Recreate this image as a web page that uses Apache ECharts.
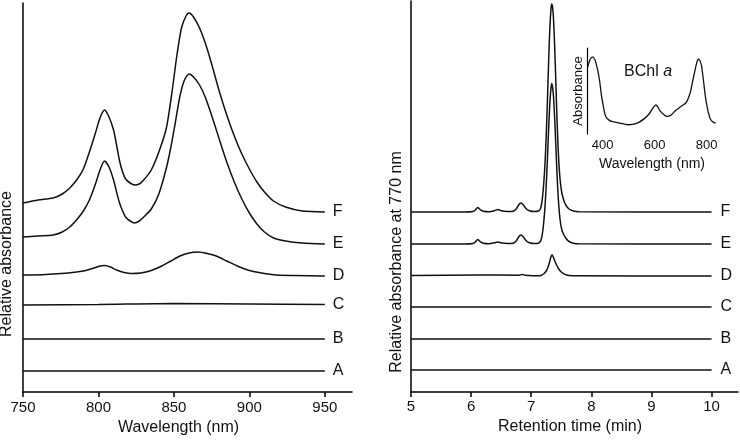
<!DOCTYPE html>
<html><head><meta charset="utf-8">
<script src="https://cdn.jsdelivr.net/npm/echarts@6/dist/echarts.min.js"></script>
<style>html,body{margin:0;padding:0;background:#fff}#c{width:740px;height:441px}</style>
</head><body><div id="c"></div>
<script>
// ---------- Data ----------
// Left panel: absorption spectra, [wavelength nm, relative absorbance (offset traces)]
const specNames = ['A','B','C','D','E','F'];
const wlTicks = [750,800,850,900,950];
const specA = [[750,21],[850,21],[950,21]];
const specB = [[750,53],[850,53],[950,53]];
const specC = [[750,87],[800,87.5],[850,88.5],[900,88],[950,87.5]];
const specD = [[750,117],[765,117.5],[780,119],[790,121],[797,124],[801,126],[804,126.5],[808,125],[812,122],[817,119.5],[822,118.5],[828,119],[835,121.5],[842,126],[848,131],[854,136],[860,139],[866,140],[872,138.5],[878,136],[885,131],[892,126],[900,121.5],[908,119],[918,117],[930,116.5],[950,116]];
const specE = [[750,155],[760,156],[770,157],[776,160],[781,165],[786,173],[790,181],[794,192],[798,208],[801,222],[804,231],[807,225],[810,212],[812,200],[814,189],[816,181],[818,175],[821,171],[824,169],[827,171],[830,175],[835,183],[840,198],[845,224],[848,245],[851,270],[854,296],[857,312],[860,318],[863,315],[867,307],[871,294],[876,272],[880,253],[885,230],[890,210],[895,193],[900,179],[905,168],[910,160],[916,154],[924,151],[935,149],[950,148]];
const specF = [[750,189],[760,192],[770,194],[776,198],[781,204],[786,213],[790,223],[794,240],[798,259],[801,274],[804,282],[807,275],[810,262],[812,247],[814,231],[816,220],[818,213],[821,209],[824,207],[827,208],[830,212],[835,222],[840,240],[845,264],[849,303],[852,337],[855,364],[858,376],[860,379],[863,375],[867,364],[871,348],[875,328],[880,301],[885,277],[890,256],[895,238],[900,223],[905,210],[910,200],[916,191],[924,185],[935,181],[950,180]];

// Right panel: HPLC chromatograms, [retention time min, relative absorbance at 770 nm (offset traces)]
const timeTicks = [5,6,7,8,9,10];
const chromA = [[5,22],[7.5,22],[10,22]];
const chromB = [[5,53],[7.5,53],[10,53]];
const chromC = [[5,85],[7.5,85],[10,85]];
const chromD = [[5,116.5],[6.1,117],[6.8,116.8],[6.85,117.5],[6.9,116.8],[7.12,116.2],[7.17,116.8],[7.21,118.2],[7.25,121],[7.28,125],[7.31,131],[7.33,135.5],[7.345,137],[7.36,136],[7.38,133],[7.41,128.5],[7.44,125],[7.47,122],[7.51,119.5],[7.56,117.6],[7.63,116.6],[7.75,116.2],[10,116]];
const chromE = [[5,148],[5.9,148],[6.03,148.5],[6.07,150],[6.11,152.5],[6.15,150.5],[6.2,148.8],[6.3,148.3],[6.39,149.3],[6.445,150],[6.5,149.2],[6.6,148.5],[6.7,148.8],[6.75,151],[6.79,155],[6.83,157],[6.87,155],[6.92,151],[6.98,149],[7.05,148.5],[7.12,148.8],[7.15,150.5],[7.17,153.5],[7.19,160],[7.21,171],[7.23,186],[7.25,207],[7.27,233.5],[7.29,263.6],[7.31,289.1],[7.33,304.5],[7.342,308.6],[7.355,304.8],[7.37,296],[7.39,274],[7.41,246],[7.43,217],[7.45,194],[7.47,178],[7.49,168],[7.51,162],[7.54,157.5],[7.58,153.5],[7.63,150.5],[7.7,148.8],[7.8,148.2],[10,148]];
const chromF = [[5,180],[5.9,180],[6.03,180.5],[6.07,182],[6.11,184.5],[6.15,182.5],[6.2,180.8],[6.3,180.3],[6.39,181.3],[6.445,182.5],[6.5,181.2],[6.6,180.5],[6.7,180.8],[6.75,183],[6.79,187],[6.83,189],[6.87,187],[6.92,183],[6.98,181],[7.05,180.5],[7.12,181],[7.15,183],[7.17,187],[7.19,196],[7.21,210],[7.23,229],[7.25,257],[7.27,292],[7.29,331],[7.31,364],[7.33,384],[7.342,388],[7.355,385],[7.37,374],[7.39,346],[7.41,309],[7.43,271],[7.45,241],[7.47,220],[7.49,207],[7.51,199],[7.54,192],[7.58,186.5],[7.63,183],[7.7,181],[7.8,180.3],[10,180]];

// Inset: BChl a absorption spectrum, [wavelength nm, absorbance (arb.)]
const insetTicks = [400,600,800];
const bchlSpectrum = [[343,203],[352,225],[362,233],[370,225],[375,213],[382,190],[389,158],[395,120],[402,88],[409,60],[416,48],[425,42],[435,38],[466,33],[498,28],[531,32],[563,48],[580,62],[589,73],[597,82],[604,88],[612,82],[621,70],[634,60],[647,53],[657,55],[667,60],[680,70],[693,78],[706,86],[719,93],[728,105],[738,128],[746,158],[754,188],[761,212],[768,226],[774,222],[780,208],[785,180],[790,148],[796,110],[803,78],[810,56],[816,43],[825,36],[835,33]];

// ---------- Chart ----------
const FONT = "'Liberation Sans', Arial, Helvetica, sans-serif";
const INK = '#111';
const axisLineStyle = {color:'#000', width:1.5};

function traceSeries(name, data, axisIdx, dist){
  return {
    type:'line', name:name, data:data, xAxisIndex:axisIdx, yAxisIndex:axisIdx,
    showSymbol:false, smooth:0.25, silent:true,
    lineStyle:{color:INK, width:1.5},
    endLabel:{show:true, formatter:name, distance:dist, fontSize:16, color:'#111', fontFamily:FONT}
  };
}

const specData = [specA,specB,specC,specD,specE,specF];
const chromData = [chromA,chromB,chromC,chromD,chromE,chromF];
const series = [];
specNames.forEach((n,i)=>series.push(traceSeries(n, specData[i], 0, 8)));
specNames.forEach((n,i)=>series.push(traceSeries(n, chromData[i], 1, 9)));
series.push({type:'line', data:bchlSpectrum, xAxisIndex:2, yAxisIndex:2, showSymbol:false, smooth:0.3, silent:true, lineStyle:{color:INK, width:1.3}});

const option = {
  animation:false,
  backgroundColor:'#fff',
  textStyle:{fontFamily:FONT},
  title:{
    text:'{n|BChl }{i|a}', left:624, top:64, padding:0,
    textStyle:{fontWeight:'normal', rich:{n:{fontSize:16, fontWeight:'normal', fontFamily:FONT, color:'#111'}, i:{fontSize:16, fontWeight:'normal', fontFamily:FONT, fontStyle:'italic', color:'#111'}}}
  },
  grid:[
    {left:23, top:3, width:329, height:389, outerBoundsMode:'none', containLabel:false},
    {left:411, top:1, width:327, height:391, outerBoundsMode:'none', containLabel:false},
    {left:587, top:48, width:130, height:86, outerBoundsMode:'none', containLabel:false}
  ],
  xAxis:[
    {type:'value', gridIndex:0, min:750, max:968, interval:50,
     axisLine:{show:true, lineStyle:axisLineStyle},
     axisTick:{show:true, inside:false, length:5, customValues:wlTicks, lineStyle:axisLineStyle},
     axisLabel:{customValues:wlTicks, fontSize:15, color:'#111', margin:8, fontFamily:FONT},
     splitLine:{show:false},
     name:'Wavelength (nm)', nameLocation:'middle', nameGap:25,
     nameTextStyle:{fontSize:16, color:'#111', fontFamily:FONT, padding:[0,18,0,0]}},
    {type:'value', gridIndex:1, min:5, max:10.44, interval:1,
     axisLine:{show:true, lineStyle:axisLineStyle},
     axisTick:{show:true, inside:false, length:5, customValues:timeTicks, lineStyle:axisLineStyle},
     axisLabel:{customValues:timeTicks, fontSize:15, color:'#111', margin:7, fontFamily:FONT},
     splitLine:{show:false},
     name:'Retention time (min)', nameLocation:'middle', nameGap:24,
     nameTextStyle:{fontSize:16, color:'#111', fontFamily:FONT, padding:[0,9,0,0]}},
    {type:'value', gridIndex:2, min:340, max:840, interval:200,
     axisLine:{show:false}, axisTick:{show:false},
     axisLabel:{customValues:insetTicks, fontSize:13, color:'#111', margin:5, fontFamily:FONT},
     splitLine:{show:false},
     name:'Wavelength (nm)', nameLocation:'middle', nameGap:23,
     nameTextStyle:{fontSize:14, color:'#111', fontFamily:FONT}}
  ],
  yAxis:[
    {type:'value', gridIndex:0, min:0, max:389,
     axisLine:{show:true, lineStyle:axisLineStyle}, axisTick:{show:false}, axisLabel:{show:false}, splitLine:{show:false},
     name:'Relative absorbance', nameLocation:'middle', nameGap:8,
     nameTextStyle:{fontSize:16, color:'#111', fontFamily:FONT, padding:[0,133,0,0]}},
    {type:'value', gridIndex:1, min:0, max:391,
     axisLine:{show:true, lineStyle:axisLineStyle}, axisTick:{show:false}, axisLabel:{show:false}, splitLine:{show:false},
     name:'Relative absorbance at 770 nm', nameLocation:'middle', nameGap:6,
     nameTextStyle:{fontSize:16, color:'#111', fontFamily:FONT, padding:[0,131,0,0]}},
    {type:'value', gridIndex:2, min:0, max:260,
     axisLine:{show:true, lineStyle:{color:'#000', width:1.2}}, axisTick:{show:false}, axisLabel:{show:false}, splitLine:{show:false},
     name:'Absorbance', nameLocation:'middle', nameGap:2,
     nameTextStyle:{fontSize:13, color:'#111', fontFamily:FONT}}
  ],
  series:series
};

const chart = echarts.init(document.getElementById('c'), null, {renderer:'canvas'});
chart.setOption(option);
</script></body></html>
